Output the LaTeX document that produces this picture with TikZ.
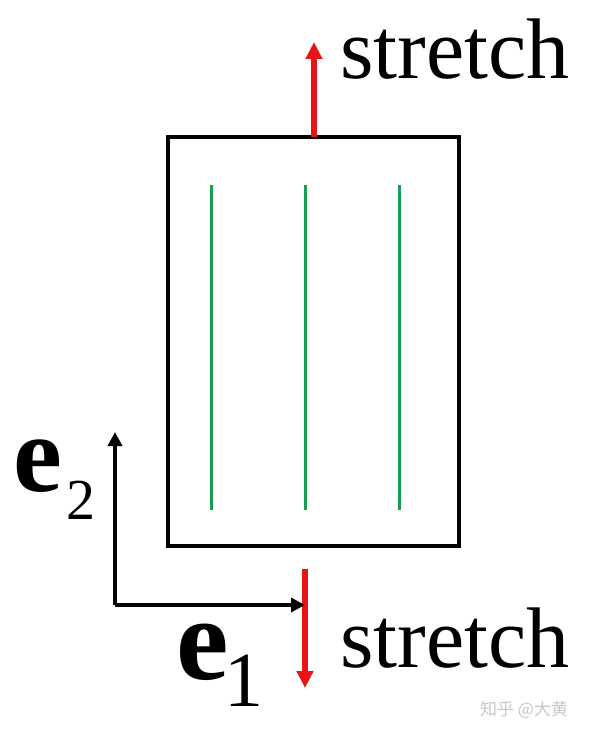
\documentclass[tikz,border=0pt]{standalone}
\usepackage{fontspec}
\setmainfont{Liberation Serif}
\newfontfamily\cjk{Noto Sans CJK SC}
\usetikzlibrary{arrows.meta}
\definecolor{fibre}{RGB}{20,160,80}
\definecolor{pull}{RGB}{230,20,20}
\tikzset{
  filmbox/.style={draw=black, line width=3.8pt, minimum width=291pt, minimum height=409pt, inner sep=0pt},
  fibreline/.style={draw=fibre, line width=3pt},
  pullarrow/.style={draw=pull, line width=5.5pt, -{Triangle[length=17pt,width=16pt]}},
  axisarrow/.style={draw=black, line width=4pt, -{Triangle[length=14pt,width=14pt]}},
  label/.style={inner sep=0pt, anchor=base west, font=\fontsize{86}{90}\selectfont},
}
\begin{document}
\begin{tikzpicture}[x=1pt,y=-1pt]
\path[use as bounding box] (0,0) rectangle (590,733);
\node[filmbox] (film) at (313.5,341.5) {};
% fibres
\foreach \x/\n in {211/a,305/b,399/c}{
  \coordinate (f\n top) at (\x,185);
  \coordinate (f\n bot) at (\x,510);
  \draw[fibreline] (f\n top) -- (f\n bot);
}
% stretch arrows
\coordinate (toptip) at (314,42);
\coordinate (topbase) at (314,137);
\draw[pullarrow] (topbase) -- (toptip);
\coordinate (botbase) at (305,569);
\coordinate (bottip) at (305,688);
\draw[pullarrow] (botbase) -- (bottip);
\node[label] (stretchtop) at (340,79) {stretch};
\node[label] (stretchbot) at (340,667) {stretch};
% axes
\coordinate (origin) at (115,605);
\coordinate (e2tip) at (115,432);
\coordinate (e1tip) at (305,605);
\draw[axisarrow] (origin) -- (e2tip);
\draw[axisarrow] (origin) -- (e1tip);
\node[inner sep=0pt, anchor=base west] (e2lab) at (13,491) {\fontsize{110}{112}\selectfont\bfseries e};
\node[inner sep=0pt, anchor=base west] (e2sub) at (66,519) {\fontsize{58}{60}\selectfont 2};
\node[inner sep=0pt, anchor=base west] (e1lab) at (176,679) {\fontsize{118}{120}\selectfont\bfseries e};
\node[inner sep=0pt, anchor=base west] (e1sub) at (224,706) {\fontsize{78}{80}\selectfont 1};
% watermark
\node[inner sep=0pt, anchor=base west, text=black!22] (wm) at (480,715) {\cjk\fontsize{17}{18}\selectfont 知乎 @大黄};
\end{tikzpicture}
\end{document}
